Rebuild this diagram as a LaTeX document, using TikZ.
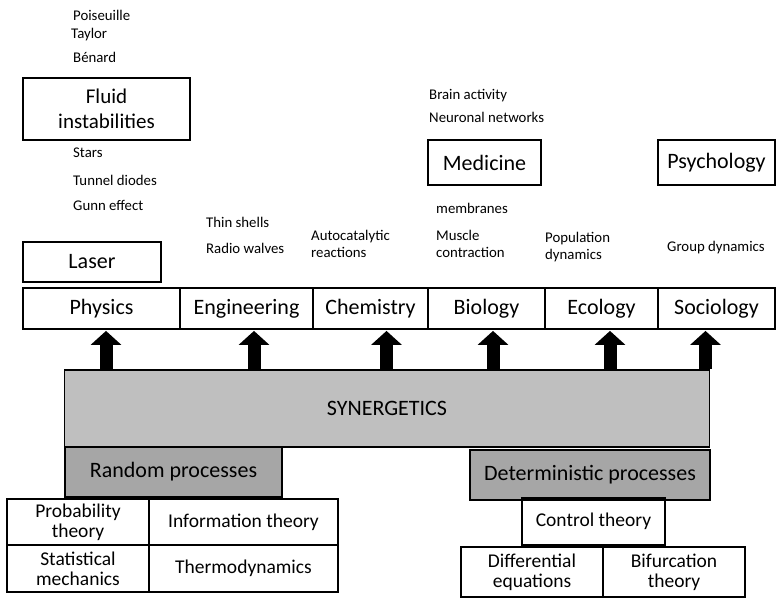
\documentclass[tikz,border=0pt]{standalone}
\usepackage{fontspec}
\setmainfont{Carlito}
\usetikzlibrary{arrows.meta,calc}
\definecolor{synfill}{HTML}{BFBFBF}
\definecolor{procfill}{HTML}{A6A6A6}
\tikzset{
  box/.style={draw=black, line width=1.8pt, inner sep=0pt, align=center, font=\fontsize{22}{24}\selectfont},
  bigbox/.style={box, line width=2.4pt, font=\fontsize{21}{25}\selectfont},
  lowbox/.style={box, font=\fontsize{19.5}{20}\selectfont},
  note/.style={anchor=west, inner sep=0pt, align=left, font=\fontsize{14.8}{17}\selectfont},
  bigarrow/.style={line width=13pt, -{Triangle[width=30pt,length=14pt]}, shorten >=1pt},
}
\begin{document}
\begin{tikzpicture}[x=1pt, y=-1pt]
\useasboundingbox (0,0) rectangle (778,597);

% upper boxes
\node[bigbox, minimum width=167, minimum height=62] (fluid) at (106.5,109) {Fluid\\instabilities};
\node[box, minimum width=138, minimum height=40] (laser) at (92,262) {Laser};
\node[box, minimum width=113, minimum height=45] (med) at (484.5,162.5) {Medicine};
\node[box, minimum width=117, minimum height=45] (psy) at (716.5,162.5) {Psychology};

% row of fields
\node[box, minimum width=157, minimum height=41] (phys) at (101.5,308.5) {Physics};
\node[box, minimum width=133, minimum height=41] (eng) at (246.5,308.5) {Engineering};
\node[box, minimum width=115, minimum height=41] (chem) at (370.5,308.5) {Chemistry};
\node[box, minimum width=117, minimum height=41] (bio) at (486.5,308.5) {Biology};
\node[box, minimum width=113, minimum height=41] (eco) at (601.5,308.5) {Ecology};
\node[box, minimum width=117, minimum height=41] (soc) at (716.5,308.5) {Sociology};

% synergetics and its foundations
\node[box, fill=synfill, minimum width=645, minimum height=77] (syn) at (387,408.5) {SYNERGETICS};
\node[box, fill=procfill, minimum width=217, minimum height=50] (rand) at (173.5,472) {Random processes};
\node[box, fill=procfill, minimum width=240, minimum height=50] (det) at (590,475) {Deterministic processes};

\node[lowbox, minimum width=142, minimum height=46] (prob) at (78,522) {Probability\\theory};
\node[lowbox, minimum width=189, minimum height=46] (info) at (243.5,522) {Information theory};
\node[lowbox, minimum width=142, minimum height=47] (stat) at (78,568.5) {Statistical\\mechanics};
\node[lowbox, minimum width=189, minimum height=47] (thermo) at (243.5,568.5) {Thermodynamics};
\node[lowbox, minimum width=143, minimum height=47] (ctrl) at (593.5,521.5) {Control theory};
\node[lowbox, minimum width=142, minimum height=50] (diff) at (532,572) {Differential\\equations};
\node[lowbox, minimum width=142, minimum height=50] (bif) at (674,572) {Bifurcation\\theory};

% arrows from synergetics up to the fields
\draw[bigarrow] ($(syn.north -| phys.south)+(4.5,0)$) -- ($(phys.south)+(4.5,0)$);
\draw[bigarrow] ($(syn.north -| eng.south)+(7.5,0)$) -- ($(eng.south)+(7.5,0)$);
\draw[bigarrow] ($(syn.north -| chem.south)+(16,0)$) -- ($(chem.south)+(16,0)$);
\draw[bigarrow] ($(syn.north -| bio.south)+(6.5,0)$) -- ($(bio.south)+(6.5,0)$);
\draw[bigarrow] ($(syn.north -| eco.south)+(8.5,0)$) -- ($(eco.south)+(8.5,0)$);
\draw[bigarrow] ($(syn.north -| soc.south)+(-11,0)$) -- ($(soc.south)+(-11,0)$);

% notes
\node[note] (n1) at (73,15) {Poiseuille};
\node[note] (n2) at (71,35) {Taylor};
\node[note] (n3) at (73,57) {Bénard};
\node[note] (n4) at (73,153) {Stars};
\node[note] (n5) at (73,180) {Tunnel diodes};
\node[note] (n6) at (73,205) {Gunn effect};
\node[note] (n7) at (206,222) {Thin shells};
\node[note] (n8) at (206,248) {Radio walves};
\node[note] (n9) at (311,243.5) {Autocatalytic\\reactions};
\node[note] (n10) at (429,96) {Brain activity};
\node[note] (n11) at (429,117) {Neuronal networks};
\node[note] (n12) at (436,208) {membranes};
\node[note] (n13) at (436,243.5) {Muscle\\contraction};
\node[note] (n14) at (545,247.5) {Population\\dynamics};
\node[note] (n15) at (667,248) {Group dynamics};
\end{tikzpicture}
\end{document}
